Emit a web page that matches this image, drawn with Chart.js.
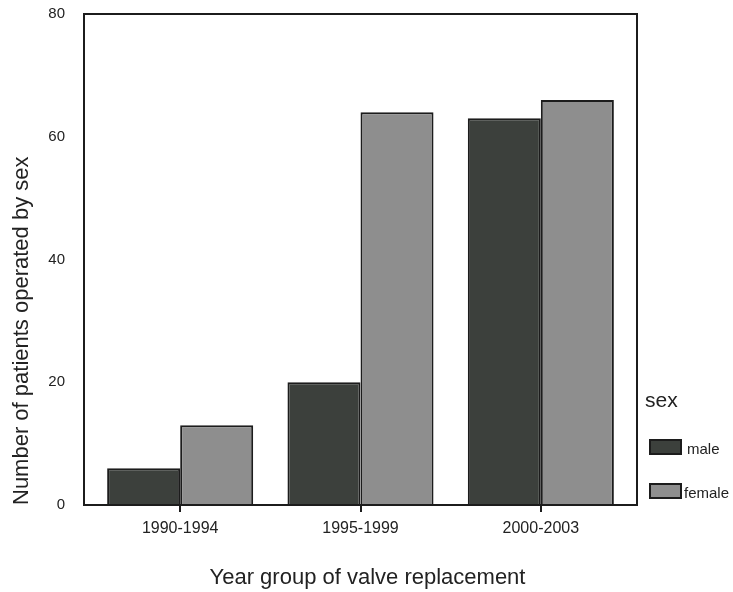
<!DOCTYPE html>
<html>
<head>
<meta charset="utf-8">
<script src="https://cdn.jsdelivr.net/npm/chart.js@4.4.1/dist/chart.umd.min.js"></script>
<style>
  html, body { margin: 0; padding: 0; background: #ffffff; }
  #wrap { width: 733px; height: 592px; position: relative; }
</style>
</head>
<body>
<div id="wrap"><canvas id="c" width="733" height="592"></canvas></div>
<script>
const categories = ["1990-1994", "1995-1999", "2000-2003"];
const seriesNames = ["male", "female"];
const maleValues = [6, 20, 63];
const femaleValues = [13, 64, 66];
const yTicks = [0, 20, 40, 60, 80];
const legendTitle = "sex";
const xTitle = "Year group of valve replacement";
const yTitle = "Number of patients operated by sex";

const FONT = "'Liberation Sans', Arial, sans-serif";
const maleColor = "#3c403c";
const femaleColor = "#8e8e8e";
const edgeColor = "#1c1c1c";
const frameInset = 6;

const framePlugin = {
  id: "frame",
  afterDatasetsDraw(chart) {
    const { ctx, chartArea: a } = chart;
    ctx.save();
    ctx.strokeStyle = edgeColor;
    ctx.lineWidth = 2;
    ctx.strokeRect(a.left - frameInset, a.top, a.right - a.left + 2 * frameInset, a.bottom - a.top);
    ctx.restore();
  }
};

const textPlugin = {
  id: "extraText",
  afterDraw(chart) {
    const { ctx, chartArea: a } = chart;
    ctx.save();
    ctx.fillStyle = "#222";
    ctx.textBaseline = "middle";
    ctx.textAlign = "center";
    ctx.font = "22px " + FONT;
    ctx.fillText(xTitle, (a.left + a.right) / 2 + 7, 578);

    ctx.textAlign = "left";
    ctx.font = "21px " + FONT;
    ctx.fillText(legendTitle, 645, 401);
    const rows = [440, 484];
    chart.data.datasets.forEach((ds, i) => {
      const y = rows[i];
      ctx.fillStyle = ds.backgroundColor;
      ctx.fillRect(650, y, 31, 14);
      ctx.strokeStyle = edgeColor;
      ctx.lineWidth = 2;
      ctx.strokeRect(650, y, 31, 14);
      ctx.fillStyle = "#222";
      ctx.font = "15px " + FONT;
      ctx.fillText(ds.label, i === 0 ? 687 : 684, y + 10);
    });
    ctx.restore();
  }
};

new Chart(document.getElementById("c"), {
  type: "bar",
  data: {
    labels: categories,
    datasets: [
      { label: seriesNames[0], data: maleValues, backgroundColor: maleColor,
        borderColor: edgeColor, borderWidth: 2 },
      { label: seriesNames[1], data: femaleValues, backgroundColor: femaleColor,
        borderColor: edgeColor, borderWidth: 2 }
    ]
  },
  options: {
    responsive: false,
    animation: false,
    layout: { padding: { left: 0, top: 14, right: 102, bottom: 0 } },
    plugins: {
      legend: { display: false },
      tooltip: { enabled: false }
    },
    datasets: { bar: { categoryPercentage: 0.81, barPercentage: 1.0 } },
    scales: {
      x: {
        grid: { display: true, drawOnChartArea: false, offset: false, drawTicks: true,
                tickLength: 7, color: edgeColor, lineWidth: 2 },
        border: { display: false },
        ticks: { color: "#222", font: { family: FONT, size: 16 }, padding: 7 },
        title: { display: false },
        afterFit(s) { s.height = 87; s.paddingLeft = 0; s.paddingRight = 0; }
      },
      y: {
        min: 0, max: 80,
        afterBuildTicks(s) { s.ticks = yTicks.map(v => ({ value: v })); },
        grid: { display: false },
        border: { display: false },
        ticks: { color: "#222", font: { family: FONT, size: 15 }, padding: 17 },
        title: { display: true, text: yTitle, color: "#222", align: "start",
                 font: { family: FONT, size: 22 }, padding: { top: 9, bottom: 0 } },
        afterFit(s) { s.width = 90; s.paddingTop = 0; s.paddingBottom = 0; }
      }
    }
  },
  plugins: [framePlugin, textPlugin]
});
</script>
</body>
</html>
